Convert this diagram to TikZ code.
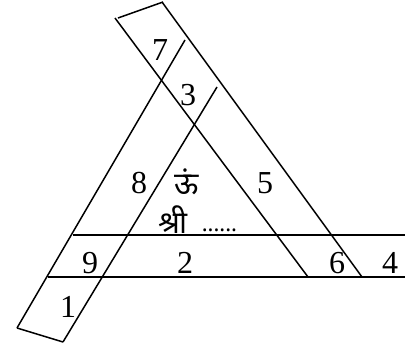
\documentclass[tikz,border=0pt]{standalone}
\usepackage{fontspec}
\newfontfamily\devfont[Script=Devanagari]{Noto Sans}
\newfontfamily\numfont{Liberation Serif}
\begin{document}
\begin{tikzpicture}[x=1pt,y=-1pt,line width=1.5pt,
  num/.style={font=\numfont\fontsize{32}{33}\selectfont,inner sep=0pt,anchor=center},
  dev/.style={font=\devfont\fontsize{31}{34}\selectfont,inner sep=0pt,anchor=center},
  dotsty/.style={font=\devfont\bfseries\fontsize{22}{24}\selectfont,inner sep=0pt}]
\useasboundingbox (0,0) rectangle (405,345);
% left band
\coordinate (LoB) at (17,328);
\coordinate (LoT) at (185,40);
\coordinate (LiB) at (63,342);
\coordinate (LiT) at (217,87);
% top band
\coordinate (ToL) at (115,18);
\coordinate (ToE) at (308,277);
\coordinate (TrT) at (162,2);
\coordinate (TrE) at (362,277);
\coordinate (CapA) at (118,18);
\coordinate (CapB) at (163,2);
% horizontal band
\coordinate (H1L) at (73,235);
\coordinate (H1R) at (405,235);
\coordinate (H2L) at (48,277);
\coordinate (H2R) at (405,277);
\draw (LoB) -- (LoT);
\draw (LiB) -- (LiT);
\draw (LoB) -- (LiB);
\draw (ToL) -- (ToE);
\draw (TrT) -- (TrE);
\draw (CapA) -- (CapB);
\draw (H1L) -- (H1R);
\draw (H2L) -- (H2R);
\node[num] (n7) at (160,50) {7};
\node[num] (n3) at (188,95) {3};
\node[num] (n8) at (139,183) {8};
\node[num] (n5) at (265,183) {5};
\node[num] (n9) at (90,263) {9};
\node[num] (n2) at (185,263) {2};
\node[num] (n6) at (337,263) {6};
\node[num] (n4) at (390,263) {4};
\node[num] (n1) at (68,307) {1};
\node[dev] (om) at (187,182) {ऊं};
\node[dev] (shri) at (173,220) {श्री};
\node[dotsty,anchor=base west] (dots) at (201,231) {......};
\end{tikzpicture}
\end{document}
